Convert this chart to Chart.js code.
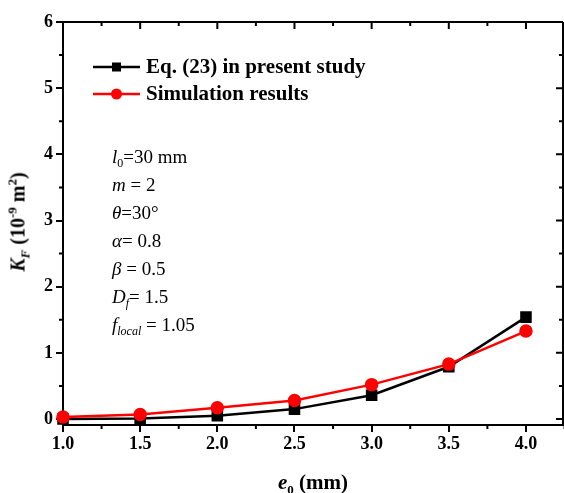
<!DOCTYPE html>
<html>
<head>
<meta charset="utf-8">
<script src="https://cdn.jsdelivr.net/npm/chart.js@4"></script>
<style>
  html, body { margin: 0; padding: 0; background: #fff; }
  #wrap { position: relative; width: 564px; height: 493px; font-family: "Liberation Serif", "Times New Roman", serif; }
  canvas { position: absolute; left: 0; top: 0; }
  .note { position: absolute; left: 112px; font-size: 19px; line-height: 19px; color: #000; white-space: nowrap; }
  .note sub { font-size: 12px; vertical-align: -4px; line-height: 0; }
  #xtitle { position: absolute; top: 470px; left: 0; width: 626px; text-align: center; font-weight: bold; font-size: 21px; }
  #xtitle sub { font-size: 13px; vertical-align: -5px; line-height: 0; }
  #ytitle { position: absolute; left: 18px; top: 222px; transform: translate(-50%, -50%) rotate(-90deg); font-weight: bold; font-size: 20px; white-space: nowrap; }
  #ytitle sub { font-size: 13px; vertical-align: -5px; line-height: 0; }
  #ytitle sup { font-size: 13px; vertical-align: 8px; line-height: 0; }
</style>
</head>
<body>
<div id="wrap">
  <canvas id="chart" width="564" height="493"></canvas>
  <div id="notes"></div>
  <div id="xtitle"><i>e</i><sub>0</sub> (mm)</div>
  <div id="ytitle"><i>K<sub>F</sub></i> (10<sup>-9</sup> m<sup>2</sup>)</div>
</div>
<script>
// data
const e0 = [1.0, 1.5, 2.0, 2.5, 3.0, 3.5, 4.0];
const eqValues = [0.00, 0.01, 0.05, 0.15, 0.36, 0.79, 1.54];
const simValues = [0.03, 0.07, 0.17, 0.28, 0.52, 0.83, 1.33];
const xTicks = [1.0, 1.5, 2.0, 2.5, 3.0, 3.5, 4.0];
const yTicks = [0, 1, 2, 3, 4, 5, 6];
const noteLines = [
  '<i>l</i><sub>0</sub>=30 mm',
  '<i>m</i> = 2',
  '<i>θ</i>=30°',
  '<i>α</i>= 0.8',
  '<i>β</i> = 0.5',
  '<i>D<sub>f</sub></i>= 1.5',
  '<i>f<sub>local</sub></i> = 1.05'
];

const notes = document.getElementById('notes');
noteLines.forEach((html, i) => {
  const d = document.createElement('div');
  d.className = 'note';
  d.style.top = (147 + i * 28) + 'px';
  d.innerHTML = html;
  notes.appendChild(d);
});

const serif = '"Liberation Serif", "Times New Roman", serif';

// frame, inward ticks on top/right, minor ticks, and the in-plot legend
const framePlugin = {
  id: 'frame',
  afterDraw(chart) {
    const ctx = chart.ctx;
    const a = chart.chartArea;
    const xs = chart.scales.x, ys = chart.scales.y;
    ctx.save();
    ctx.strokeStyle = '#000';
    ctx.lineWidth = 2;
    ctx.beginPath();
    ctx.moveTo(a.left, a.top); ctx.lineTo(a.right, a.top);
    ctx.moveTo(a.right, a.top); ctx.lineTo(a.right, a.bottom);
    ctx.stroke();
    ctx.beginPath();
    for (let v = 1.0; v <= 4.26; v += 0.25) {
      const px = xs.getPixelForValue(v);
      const major = Math.abs(v * 2 - Math.round(v * 2)) < 1e-6;
      const len = major ? 7 : 4;
      ctx.moveTo(px, a.top); ctx.lineTo(px, a.top + len);
      if (!major) { ctx.moveTo(px, a.bottom); ctx.lineTo(px, a.bottom + len); }
    }
    for (let v = 0; v <= 6.01; v += 0.5) {
      const py = ys.getPixelForValue(v);
      const major = Math.abs(v - Math.round(v)) < 1e-6;
      const len = major ? 7 : 4;
      ctx.moveTo(a.right, py); ctx.lineTo(a.right - len, py);
      if (!major) { ctx.moveTo(a.left, py); ctx.lineTo(a.left - len, py); }
    }
    ctx.stroke();

    // legend
    const rows = [chart.data.datasets[0], chart.data.datasets[1]];
    rows.forEach((ds, i) => {
      const y = 67 + i * 27;
      ctx.strokeStyle = ds.borderColor;
      ctx.lineWidth = 2.5;
      ctx.beginPath(); ctx.moveTo(93, y); ctx.lineTo(140, y); ctx.stroke();
      ctx.fillStyle = ds.pointBackgroundColor;
      if (ds.pointStyle === 'rect') ctx.fillRect(112, y - 4.5, 9, 9);
      else { ctx.beginPath(); ctx.arc(116.5, y, 5.5, 0, Math.PI * 2); ctx.fill(); }
      ctx.fillStyle = '#000';
      ctx.font = 'bold 21px ' + serif;
      ctx.textBaseline = 'middle';
      ctx.fillText(ds.label, 146, y + 1);
    });
    ctx.restore();
  }
};

new Chart(document.getElementById('chart'), {
  type: 'line',
  data: {
    datasets: [
      {
        label: 'Eq. (23) in present study',
        data: e0.map((x, i) => ({ x: x, y: eqValues[i] })),
        borderColor: '#000',
        backgroundColor: '#000',
        pointBackgroundColor: '#000',
        pointBorderColor: '#000',
        pointStyle: 'rect',
        pointRadius: 6.4,
        borderWidth: 2.5,
        order: 2,
        clip: false
      },
      {
        label: 'Simulation results',
        data: e0.map((x, i) => ({ x: x, y: simValues[i] })),
        borderColor: '#ff0000',
        backgroundColor: '#ff0000',
        pointBackgroundColor: '#ff0000',
        pointBorderColor: '#ff0000',
        pointStyle: 'circle',
        pointRadius: 5.5,
        borderWidth: 2.5,
        order: 1,
        clip: false
      }
    ]
  },
  options: {
    responsive: false,
    animation: false,
    layout: { autoPadding: false, padding: { top: 22, right: 1, left: 0, bottom: 0 } },
    plugins: { legend: { display: false }, tooltip: { enabled: false } },
    scales: {
      x: {
        type: 'linear',
        min: 1.0,
        max: 4.24,
        afterBuildTicks: s => { s.ticks = xTicks.map(v => ({ value: v })); },
        afterFit: s => { s.height = 68; s.paddingRight = 0; s.paddingLeft = 0; },
        ticks: {
          color: '#000',
          font: { family: serif, size: 18, weight: 'bold' },
          padding: 2,
          maxRotation: 0,
          callback: v => v.toFixed(1)
        },
        grid: { drawOnChartArea: false, drawTicks: true, tickLength: 7, color: '#000', lineWidth: 2 },
        border: { display: true, color: '#000', width: 2 }
      },
      y: {
        min: -0.09,
        max: 6,
        afterBuildTicks: s => { s.ticks = yTicks.map(v => ({ value: v })); },
        afterFit: s => { s.width = 63; s.paddingTop = 0; s.paddingBottom = 0; },
        ticks: {
          color: '#000',
          font: { family: serif, size: 18, weight: 'bold' },
          padding: 3
        },
        grid: { drawOnChartArea: false, drawTicks: true, tickLength: 7, color: '#000', lineWidth: 2 },
        border: { display: true, color: '#000', width: 2 }
      }
    }
  },
  plugins: [framePlugin]
});
</script>
</body>
</html>
